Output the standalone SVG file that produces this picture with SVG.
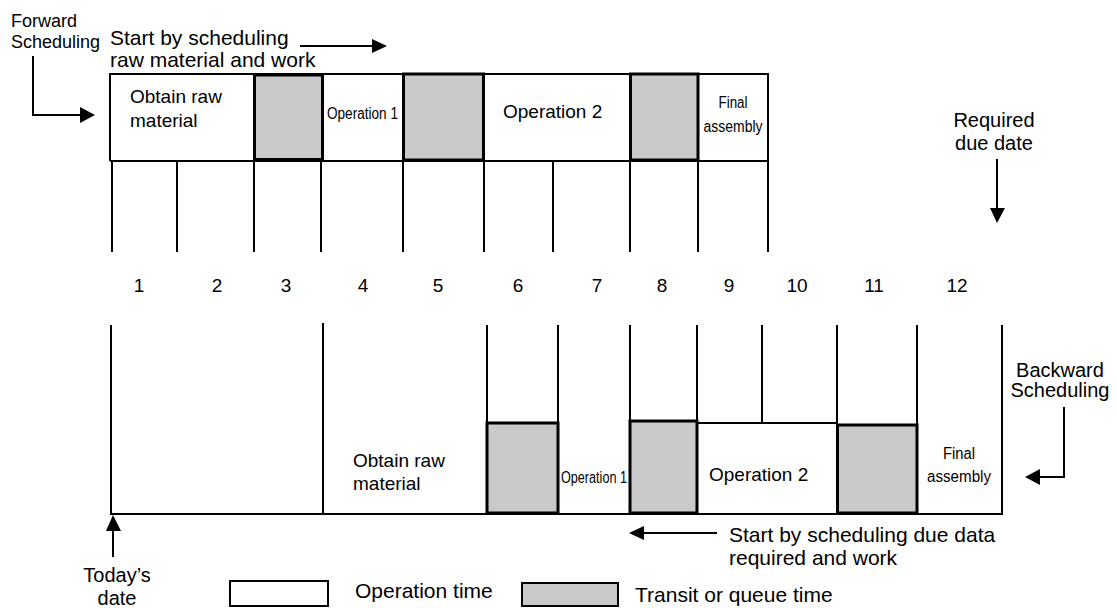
<svg xmlns="http://www.w3.org/2000/svg" width="1117" height="608" viewBox="0 0 1117 608">
<defs>
<style>
text{font-family:"Liberation Sans",Arial,sans-serif;fill:#000}
.t19{font-size:19px}
.t20{font-size:20px}
.t21{font-size:21px}
.t18{font-size:18px}
.nar{font-size:16px}
.ln{stroke:#000;stroke-width:2;fill:none}
.op{fill:#fff;stroke:#000;stroke-width:2}
.q{fill:#c9c9c9;stroke:#000;stroke-width:3}
.qn{fill:#c9c9c9;stroke:#000;stroke-width:2}
.ah{fill:#000;stroke:none}
</style>
</defs>
<rect width="1117" height="608" fill="#fff"/>

<g id="labels">
<text class="t18" x="11" y="27">Forward</text>
<text class="t18" x="11" y="48">Scheduling</text>
<text class="t21" x="110" y="45">Start by scheduling</text>
<text class="t21" x="110" y="67">raw material and work</text>
<text class="t20" x="994" y="127" text-anchor="middle">Required</text>
<text class="t20" x="994" y="150" text-anchor="middle">due date</text>
<text class="t20" x="1060" y="377" text-anchor="middle">Backward</text>
<text class="t20" x="1060" y="397" text-anchor="middle">Scheduling</text>
<text class="t21" x="729" y="542">Start by scheduling due data</text>
<text class="t21" x="729" y="565">required and work</text>
<text class="t20" x="117" y="582" text-anchor="middle">Today’s</text>
<text class="t20" x="117" y="605" text-anchor="middle">date</text>
</g>

<g id="forward-schedule">
<line class="ln" x1="110" y1="74" x2="768" y2="74"/>
<line class="ln" x1="110" y1="161" x2="768" y2="161"/>
<line class="ln" x1="110" y1="73" x2="110" y2="161"/>
<line class="ln" x1="768" y1="73" x2="768" y2="252"/>
<rect class="q" x="254.5" y="75" width="68" height="84.5"/>
<rect class="q" x="403.5" y="74" width="80" height="86"/>
<rect class="q" x="630.5" y="74" width="67.5" height="86"/>
<g class="ln">
<line x1="112" y1="161" x2="112" y2="252"/>
<line x1="177" y1="161" x2="177" y2="252"/>
<line x1="254" y1="161" x2="254" y2="252"/>
<line x1="321" y1="161" x2="321" y2="252"/>
<line x1="403" y1="161" x2="403" y2="252"/>
<line x1="484" y1="161" x2="484" y2="252"/>
<line x1="553" y1="161" x2="553" y2="252"/>
<line x1="630" y1="161" x2="630" y2="252"/>
<line x1="698" y1="161" x2="698" y2="252"/>
</g>
<text class="t19" x="130" y="103">Obtain raw</text>
<text class="t19" x="130" y="127">material</text>
<text class="nar" x="327" y="119" textLength="71" lengthAdjust="spacingAndGlyphs">Operation 1</text>
<text class="t19" x="503" y="118">Operation 2</text>
<text class="nar" x="733" y="108" text-anchor="middle" textLength="29" lengthAdjust="spacingAndGlyphs">Final</text>
<text class="nar" x="733" y="132" text-anchor="middle" textLength="59" lengthAdjust="spacingAndGlyphs">assembly</text>
</g>

<g id="days" class="t19" text-anchor="middle">
<text x="139" y="292">1</text>
<text x="217" y="292">2</text>
<text x="286" y="292">3</text>
<text x="363" y="292">4</text>
<text x="438" y="292">5</text>
<text x="518" y="292">6</text>
<text x="597" y="292">7</text>
<text x="662" y="292">8</text>
<text x="729" y="292">9</text>
<text x="797" y="292">10</text>
<text x="874" y="292">11</text>
<text x="957" y="292">12</text>
</g>

<g id="backward-schedule">
<line class="ln" x1="111" y1="514" x2="1003" y2="514"/>
<line class="ln" x1="111" y1="325" x2="111" y2="515"/>
<line class="ln" x1="323" y1="323" x2="323" y2="513"/>
<line class="ln" x1="1002" y1="325" x2="1002" y2="515"/>
<g class="ln">
<line x1="487" y1="325" x2="487" y2="423"/>
<line x1="558" y1="325" x2="558" y2="423"/>
<line x1="630" y1="325" x2="630" y2="421"/>
<line x1="697" y1="325" x2="697" y2="421"/>
<line x1="762" y1="325" x2="762" y2="423"/>
<line x1="837" y1="325" x2="837" y2="425"/>
<line x1="917" y1="325" x2="917" y2="425"/>
<line x1="697" y1="423" x2="837" y2="423"/>
</g>
<rect class="q" x="487" y="423" width="71" height="90"/>
<rect class="q" x="630" y="421" width="67" height="92"/>
<rect class="q" x="837.5" y="425" width="79.5" height="88"/>
<text class="t19" x="353" y="467">Obtain raw</text>
<text class="t19" x="353" y="490">material</text>
<text class="nar" x="561" y="483" textLength="66" lengthAdjust="spacingAndGlyphs">Operation 1</text>
<text class="t19" x="709" y="481">Operation 2</text>
<text class="nar" x="959" y="459" text-anchor="middle" textLength="32" lengthAdjust="spacingAndGlyphs">Final</text>
<text class="nar" x="959" y="482" text-anchor="middle" textLength="64" lengthAdjust="spacingAndGlyphs">assembly</text>
</g>

<g id="connectors">
<polyline class="ln" points="33,56 33,115 81,115"/>
<polygon class="ah" points="95,115 80,107 80,123"/>
<line class="ln" x1="300" y1="46" x2="373" y2="46"/>
<polygon class="ah" points="387,46 372,39 372,53"/>
<line class="ln" x1="997" y1="159" x2="997" y2="209"/>
<polygon class="ah" points="997,223 990,208 1005,208"/>
<polyline class="ln" points="1064,407 1064,477 1039,477"/>
<polygon class="ah" points="1025,477 1040,469 1040,485"/>
<line class="ln" x1="643" y1="533" x2="717" y2="533"/>
<polygon class="ah" points="629,533 644,526 644,540"/>
<line class="ln" x1="113" y1="530" x2="113" y2="557"/>
<polygon class="ah" points="113,515 106,531 121,531"/>
</g>

<g id="legend">
<rect class="op" x="230" y="581" width="98" height="25"/>
<text class="t21" x="355" y="598">Operation time</text>
<rect class="qn" x="522" y="583" width="96" height="23"/>
<text class="t21" x="635" y="602">Transit or queue time</text>
</g>
</svg>
